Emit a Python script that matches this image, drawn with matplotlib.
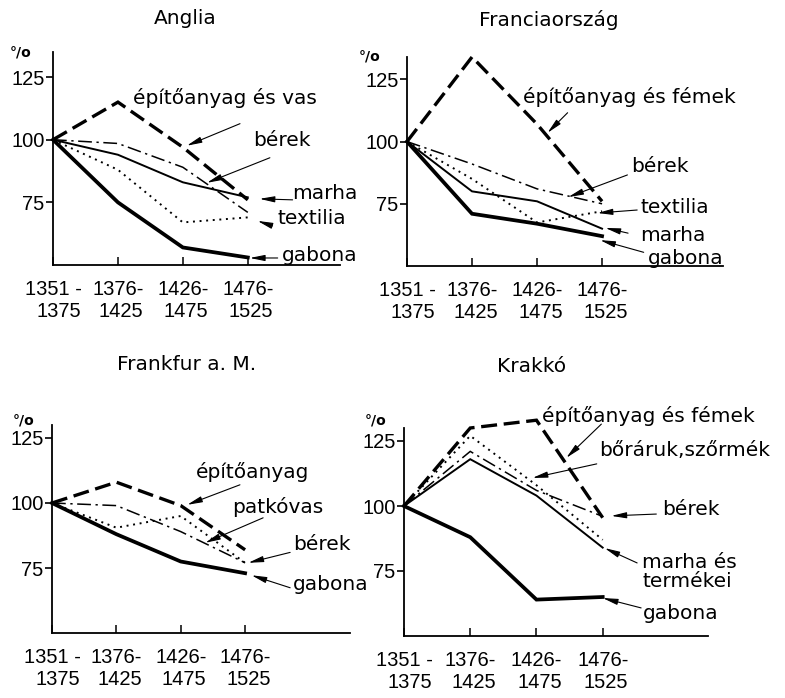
import matplotlib
matplotlib.use("Agg")
import matplotlib.pyplot as plt

plt.rcParams['font.family'] = ['DejaVu Sans']

periods = ["1351 -\n1375", "1376-\n1425", "1426-\n1475", "1476-\n1525"]
yticks = [75, 100, 125]

# Anglia
anglia_vas = [100, 115, 97, 76]
anglia_berek = [100, 98.5, 89, 71]
anglia_marha = [100, 94, 83, 77]
anglia_textil = [100, 88, 67, 69]
anglia_gabona = [100, 75, 57, 53]

# Franciaország
francia_femek = [100, 134, 107, 76]
francia_berek = [100, 91, 81, 75]
francia_textil = [100, 85, 67.5, 72]
francia_marha = [100, 80, 76, 65]
francia_gabona = [100, 71, 67, 62]

# Frankfurt a. M.
frankfurt_epito = [100, 108, 99, 82]
frankfurt_patko = [100, 90.5, 95, 77]
frankfurt_berek = [100, 99, 89, 77]
frankfurt_gabona = [100, 88, 77.5, 73]

# Krakkó
krakko_femek = [100, 130, 133, 95.5]
krakko_bor = [100, 127, 108, 87]
krakko_berek = [100, 121, 106, 96]
krakko_marha = [100, 118, 104, 84]
krakko_gabona = [100, 88, 64, 65]

styles = {
    "dash": dict(lw=2.4, dashes=(4.8, 2.0)),
    "dashdot": dict(lw=1.1, dashes=(9, 3, 1.5, 3)),
    "thin": dict(lw=1.4),
    "dot": dict(lw=1.4, dashes=(1, 2.4)),
    "thick": dict(lw=2.7),
}
arrow = dict(arrowstyle="-|>,head_length=0.9,head_width=0.18", lw=0.8,
             color="black", shrinkA=0, shrinkB=0)

W, H = 785, 698
fig = plt.figure(figsize=(W / 100, H / 100), dpi=100)


def make_ax(left, right, top, bottom, xmax, ymax):
    ax = fig.add_axes([left / W, 1 - bottom / H, (right - left) / W, (bottom - top) / H])
    ax.set_xlim(0, xmax)
    ax.set_ylim(50, ymax)
    for s in ["top", "right"]:
        ax.spines[s].set_visible(False)
    for s in ["left", "bottom"]:
        ax.spines[s].set_linewidth(1.3)
    ax.set_yticks(yticks)
    ax.set_xticks(range(len(periods)))
    ax.set_xticklabels(periods)
    # narrower digits, like the stencil lettering of the original
    for lab in ax.get_xticklabels() + ax.get_yticklabels():
        lab.set_family("Liberation Sans")
        lab.set_fontsize(14.5)
    for lab in ax.get_xticklabels():
        lab.set_multialignment("right")
    ax.tick_params(axis="y", direction="out", length=5, width=1.2, pad=1)
    ax.tick_params(axis="x", direction="in", length=6, width=1.1, pad=11)
    ax.patch.set_alpha(0)
    return ax


def draw(ax, series):
    for vals, st in series:
        ax.plot(range(len(vals)), vals, color="black", solid_joinstyle="miter",
                dash_joinstyle="miter", clip_on=False, **styles[st])


def label(ax, text, pos, tail, tip, size=14.5):
    ax.text(pos[0], pos[1], text, ha="left", va="center", fontsize=size,
            linespacing=1.05, clip_on=False)
    ax.annotate("", xy=tip, xytext=tail, arrowprops=arrow, annotation_clip=False)


# ---- Anglia ----
ax1 = make_ax(53, 340, 52, 265, 4.42, 135)
draw(ax1, [(anglia_vas, "dash"), (anglia_berek, "dashdot"), (anglia_marha, "thin"),
           (anglia_textil, "dot"), (anglia_gabona, "thick")])
label(ax1, "építőanyag és vas", (1.23, 116.8), (2.88, 106.4), (2.06, 97.6))
label(ax1, "bérek", (3.08, 99.6), (3.34, 92.8), (2.37, 82.8))
label(ax1, "marha", (3.69, 78.4), (3.69, 76.0), (3.18, 76.4))
label(ax1, "textilia", (3.45, 68.4), (3.38, 65.6), (3.15, 67.6))
label(ax1, "gabona", (3.52, 53.6), (3.46, 52.8), (3.03, 52.8))

# ---- Franciaország ----
ax2 = make_ax(407, 723, 57, 266, 4.86, 134)
draw(ax2, [(francia_femek, "dash"), (francia_berek, "dashdot"), (francia_marha, "thin"),
           (francia_textil, "dot"), (francia_gabona, "thick")])
label(ax2, "építőanyag és fémek", (1.79, 118.0), (2.47, 111.6), (2.16, 103.5))
label(ax2, "bérek", (3.44, 89.8), (3.39, 86.6), (2.48, 77.7))
label(ax2, "textilia", (3.59, 73.7), (3.54, 72.5), (2.93, 71.3))
label(ax2, "marha", (3.59, 62.4), (3.40, 63.2), (3.05, 65.3))
label(ax2, "gabona", (3.71, 53.1), (3.64, 55.5), (2.97, 60.4))

# ---- Frankfurt ----
ax3 = make_ax(52, 350, 425, 633, 4.63, 130)
draw(ax3, [(frankfurt_epito, "dash"), (frankfurt_berek, "dashdot"),
           (frankfurt_patko, "dot"), (frankfurt_gabona, "thick")])
label(ax3, "építőanyag", (2.23, 112.0), (2.92, 107.0), (2.10, 99.3))
label(ax3, "patkóvas", (2.80, 98.6), (3.28, 94.3), (2.38, 84.7))
label(ax3, "bérek", (3.75, 84.0), (3.70, 81.0), (3.05, 77.0))
label(ax3, "gabona", (3.75, 68.6), (3.70, 67.4), (3.10, 72.2))

# ---- Krakkó ----
ax4 = make_ax(404, 708, 428, 636, 4.59, 130)
draw(ax4, [(krakko_femek, "dash"), (krakko_bor, "dot"), (krakko_berek, "dashdot"),
           (krakko_marha, "thin"), (krakko_gabona, "thick")])
label(ax4, "építőanyag és fémek", (2.09, 134.6), (2.98, 131.5), (2.45, 118.5))
label(ax4, "bőráruk,szőrmék", (2.95, 121.2), (2.91, 116.2), (1.94, 110.8))
label(ax4, "bérek", (3.90, 98.8), (3.81, 96.9), (3.13, 96.2))
label(ax4, "marha és\ntermékei", (3.60, 74.6), (3.52, 78.1), (3.03, 83.8))
label(ax4, "gabona", (3.60, 58.8), (3.58, 60.8), (3.00, 64.6))

# titles and unit marks (figure pixel positions)
for txt, x, y in [("Anglia", 185, 18), ("Franciaország", 549, 20),
                  ("Frankfur a. M.", 187, 365), ("Krakkó", 532, 367)]:
    fig.text(x / W, 1 - y / H, txt, ha="center", va="center", fontsize=14.5)
for x, y in [(21, 53), (370, 56), (24, 420), (376, 420)]:
    fig.text(x / W, 1 - y / H, "°/o", ha="center", va="center", fontsize=10,
             fontweight="bold")

fig.savefig("out.png", dpi=100, facecolor="white")
